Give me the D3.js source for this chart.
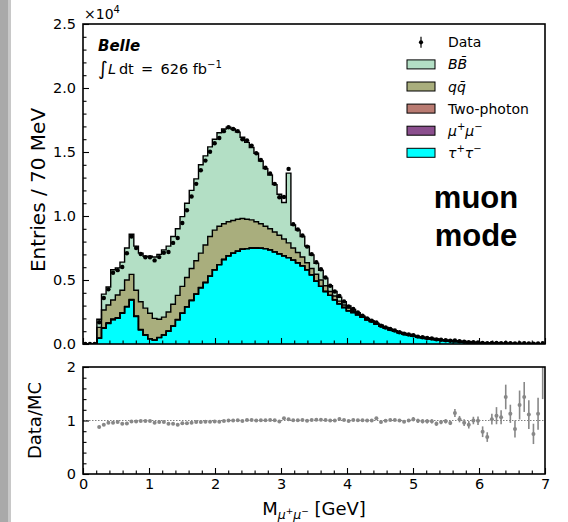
<!DOCTYPE html>
<html>
<head>
<meta charset="utf-8">
<script src="https://cdn.jsdelivr.net/npm/d3@7"></script>
<style>
  body { margin: 0; background: #fff; }
  text { font-family: "DejaVu Sans", sans-serif; fill: #000; }
</style>
</head>
<body>
<svg id="chart" width="568" height="522"></svg>
<script>
// ─── DATA (entries per 70 MeV bin, 0 - 7 GeV) ───────────────────────
const binWidth = 0.07;
const nBins = 100;

const tautau = [0,0,0,440,1220,1600,1900,2000,2400,2900,
  3440,2150,1100,700,400,300,500,700,1000,1400,
  1900,2400,2900,3400,3900,4400,4800,5300,5800,6200,
  6600,6900,7100,7250,7400,7450,7500,7500,7480,7450,
  7350,7200,7050,6900,6750,6550,6350,6100,5800,5400,
  4900,4500,4100,3800,3450,3150,2850,2600,2450,2280,
  2080,1900,1750,1560,1400,1250,1110,990,870,780,
  690,610,530,480,430,380,335,290,255,225,
  195,170,140,120,100,85,70,58,48,40,
  32,26,20,15,11,8,5,3,2,1];

const mumu = [0,0,0,10,10,10,10,10,10,10,
  10,10,10,0,0,0,0,0,0,0,
  0,0,0,0,0,0,0,0,0,0,
  0,0,0,0,0,0,0,0,0,0,
  0,0,0,0,0,0,0,0,0,0,
  0,0,0,0,0,0,0,0,0,0,
  0,0,0,0,0,0,0,0,0,0,
  0,0,0,0,0,0,0,0,0,0,
  0,0,0,0,0,0,0,0,0,0,
  0,0,0,0,0,0,0,0,0,0];

const twoPhoton = [0,0,0,30,50,50,40,40,40,30,
  30,30,20,20,20,15,15,15,15,15,
  15,15,15,15,15,15,0,0,0,0,
  0,0,0,0,0,0,0,0,0,0,
  0,0,0,0,0,0,0,0,0,0,
  0,0,0,0,0,0,0,0,0,0,
  0,0,0,0,0,0,0,0,0,0,
  0,0,0,0,0,0,0,0,0,0,
  0,0,0,0,0,0,0,0,0,0,
  0,0,0,0,0,0,0,0,0,0];

const qqbar = [0,0,0,820,1380,1390,1490,1780,1750,2060,
  1960,2010,2170,2080,1980,1685,1415,1385,1485,1685,
  1885,2085,2285,2485,2585,2685,2930,3100,3100,3000,
  2800,2650,2550,2500,2400,2300,2200,2050,1920,1750,
  1650,1550,1450,1300,1150,950,800,700,550,500,
  550,500,450,300,300,200,200,200,100,70,
  50,50,30,40,45,40,40,45,50,50,
  50,50,50,50,50,50,50,50,45,45,
  45,40,40,40,40,35,40,37,37,35,
  36,34,35,35,34,32,32,31,28,27];

const bbbar = [0,0,0,630,1240,1400,2360,2120,2200,2500,
  3130,3450,3800,4050,4450,4800,5070,5250,5150,5300,
  5200,5450,5800,6100,6400,6900,6970,7000,7100,7300,
  7400,7380,7150,6800,6350,6000,5650,5350,4900,4500,
  4200,3700,3200,2850,5450,1800,1750,1600,1300,1050,
  850,750,600,450,350,300,250,170,150,100,
  70,50,40,20,15,10,10,5,0,0,
  0,0,0,0,0,0,0,0,0,0,
  0,0,0,0,0,0,0,0,0,0,
  0,0,0,0,0,0,0,0,0,0];

const dataCounts = [0,0,0,1700,3590,4270,5570,5770,6020,7090,
  8400,7500,7030,6780,6780,6530,6790,7130,7190,7900,
  8280,9450,10450,11520,12510,13580,14330,15020,15680,16090,
  16630,16930,16800,16630,15990,15910,15500,14900,14370,13770,
  13330,12510,11470,11490,13680,9350,8940,8480,7610,7020,
  6390,5840,5200,4550,4100,3760,3330,2940,2730,2460,
  2210,2000,1820,1680,1420,1290,1170,1050,920,810,
  740,680,577,522,473,424,362,330,296,258,
  274,215,173,147,140,119,87,66,87,82,
  72,86,62,42,58,58,41,26,34,64];

// Data/MC (null where MC is empty)
const ratioVals = [null,null,null,0.88,0.92,0.96,0.96,0.97,0.94,0.945,
  0.98,0.98,0.99,0.99,0.99,0.96,0.97,0.97,0.94,0.94,
  0.92,0.95,0.95,0.96,0.97,0.97,0.975,0.975,0.98,0.975,
  0.99,1.0,1.0,1.005,0.99,1.01,1.01,1.0,1.005,1.005,
  1.01,1.005,0.98,1.04,1.025,1.005,1.005,1.01,0.995,1.01,
  1.015,1.015,1.01,1.0,1.0,1.03,1.01,0.99,1.01,1.005,
  1.005,1.0,1.0,1.04,0.97,0.995,1.01,1.01,1.0,0.975,
  1.0,1.025,0.995,0.985,0.985,0.985,0.94,0.97,0.985,0.955,
  1.14,1.025,0.96,0.92,1.0,0.995,0.79,0.69,1.025,1.09,
  1.06,1.44,1.125,0.84,1.29,1.44,1.11,0.75,1.125,2.3];

const ratioErrs = [0,0,0,0.015,0.015,0.015,0.015,0.015,0.015,0.015,
  0.01,0.01,0.01,0.01,0.01,0.01,0.01,0.01,0.01,0.01,
  0.01,0.01,0.01,0.01,0.01,0.01,0.01,0.01,0.01,0.01,
  0.01,0.01,0.01,0.01,0.01,0.01,0.01,0.01,0.01,0.01,
  0.01,0.01,0.01,0.01,0.01,0.01,0.01,0.01,0.01,0.01,
  0.01,0.015,0.015,0.015,0.015,0.015,0.015,0.015,0.015,0.015,
  0.015,0.02,0.02,0.02,0.02,0.02,0.02,0.02,0.02,0.02,
  0.02,0.04,0.04,0.04,0.04,0.04,0.04,0.04,0.04,0.04,
  0.075,0.06,0.065,0.07,0.07,0.08,0.1,0.09,0.1,0.16,
  0.13,0.23,0.17,0.16,0.27,0.28,0.27,0.19,0.3,0.9];

const stackKeys = ["tautau", "mumu", "twoPhoton", "qqbar", "bbbar"];
const stackColors = { tautau: "#00ffff", mumu: "#8b4f8e", twoPhoton: "#b97b72", qqbar: "#a9ae7d", bbbar: "#b3dfc5" };

const mainTicks = [0, 5000, 10000, 15000, 20000, 25000];
const xTicks = [0, 1, 2, 3, 4, 5, 6, 7];
const ratioTicks = [0, 1, 2];

// ─── LAYOUT ─────────────────────────────────────────────────────────
const left = 83, right = 545;
const mainTop = 24, mainBottom = 344;
const ratioTop = 367, ratioBottom = 474;

const svg = d3.select("#chart");

// grey strip on the left edge of the original screenshot
svg.append("rect").attr("x", 0).attr("y", 0).attr("width", 8).attr("height", 522).attr("fill", "#a9a9a9");
svg.append("rect").attr("x", 8).attr("y", 0).attr("width", 3).attr("height", 522).attr("fill", "#c8c8c8");

const x = d3.scaleLinear().domain([0, 7]).range([left, right]);
const y = d3.scaleLinear().domain([0, 25000]).range([mainBottom, mainTop]);
const yr = d3.scaleLinear().domain([0, 2]).range([ratioBottom, ratioTop]);

const defs = svg.append("defs");
defs.append("clipPath").attr("id", "clipMain").append("rect")
  .attr("x", left).attr("y", mainTop).attr("width", right - left).attr("height", mainBottom - mainTop);
defs.append("clipPath").attr("id", "clipRatio").append("rect")
  .attr("x", left).attr("y", ratioTop).attr("width", right - left).attr("height", ratioBottom - ratioTop);

// ─── STACKED HISTOGRAM ──────────────────────────────────────────────
const rows = d3.range(nBins).map(i => ({
  tautau: tautau[i], mumu: mumu[i], twoPhoton: twoPhoton[i], qqbar: qqbar[i], bbbar: bbbar[i]
}));
const series = d3.stack().keys(stackKeys)(rows);

// one point per bin edge, last edge repeats the last bin
const edgesOf = s => d3.range(nBins + 1).map(j => ({ x: j * binWidth, v: s[Math.min(j, nBins - 1)] }));

const area = d3.area().curve(d3.curveStepAfter)
  .x(d => x(d.x)).y0(d => y(d.v[0])).y1(d => y(d.v[1]));
const topLine = d3.line().curve(d3.curveStepAfter)
  .x(d => x(d.x)).y(d => y(d.v[1]));

const histG = svg.append("g").attr("clip-path", "url(#clipMain)");
series.forEach(s => {
  histG.append("path").attr("d", area(edgesOf(s))).attr("fill", stackColors[s.key]);
});
series.forEach(s => {
  histG.append("path").attr("d", topLine(edgesOf(s)))
    .attr("fill", "none").attr("stroke", "#000").attr("stroke-width", 1.4);
});

// data points
histG.selectAll("circle.data")
  .data(dataCounts)
  .enter().append("circle")
  .attr("class", "data")
  .attr("cx", (d, i) => x((i + 0.5) * binWidth))
  .attr("cy", d => y(d))
  .attr("r", 2.2)
  .attr("fill", "#000");

// ─── RATIO PANEL ────────────────────────────────────────────────────
const ratioG = svg.append("g").attr("clip-path", "url(#clipRatio)");
ratioG.append("line")
  .attr("x1", left).attr("x2", right).attr("y1", yr(1)).attr("y2", yr(1))
  .attr("stroke", "#808080").attr("stroke-width", 1).attr("stroke-dasharray", "1.5,1.5");

const ratioPts = ratioVals.map((v, i) => ({ v, e: ratioErrs[i], i })).filter(d => d.v !== null);
ratioG.selectAll("line.err")
  .data(ratioPts)
  .enter().append("line")
  .attr("class", "err")
  .attr("x1", d => x((d.i + 0.5) * binWidth)).attr("x2", d => x((d.i + 0.5) * binWidth))
  .attr("y1", d => yr(d.v - d.e)).attr("y2", d => yr(d.v + d.e))
  .attr("stroke", "#888").attr("stroke-width", 1.6);
ratioG.selectAll("circle.ratio")
  .data(ratioPts)
  .enter().append("circle")
  .attr("class", "ratio")
  .attr("cx", d => x((d.i + 0.5) * binWidth))
  .attr("cy", d => yr(d.v))
  .attr("r", 2)
  .attr("fill", "#888");

// ─── AXES ───────────────────────────────────────────────────────────
function styleAxis(g) {
  g.select(".domain").remove();
  g.selectAll(".tick line").attr("stroke", "#000").attr("stroke-width", 1.1);
  g.selectAll(".tick text").attr("font-size", 14.5).attr("font-family", "DejaVu Sans").attr("fill", "#000");
}
const minorOf = (lo, hi, step, majors) =>
  d3.range(lo, hi + step / 2, step).filter(v => !majors.some(m => Math.abs(m - v) < 1e-6));

// main panel
svg.append("g").attr("transform", `translate(${left},0)`)
  .call(d3.axisLeft(y).tickValues(mainTicks).tickSizeInner(-6).tickSizeOuter(0).tickPadding(7)
    .tickFormat(d => (d / 1e4).toFixed(1)))
  .call(styleAxis);
svg.append("g").attr("transform", `translate(${left},0)`)
  .call(d3.axisLeft(y).tickValues(minorOf(0, 25000, 1000, mainTicks)).tickSizeInner(-3.5).tickSizeOuter(0).tickFormat(""))
  .call(styleAxis);
svg.append("g").attr("transform", `translate(0,${mainBottom})`)
  .call(d3.axisBottom(x).tickValues(xTicks).tickSizeInner(-6).tickSizeOuter(0).tickFormat(""))
  .call(styleAxis);
svg.append("g").attr("transform", `translate(0,${mainBottom})`)
  .call(d3.axisBottom(x).tickValues(minorOf(0, 7, 0.2, xTicks)).tickSizeInner(-3.5).tickSizeOuter(0).tickFormat(""))
  .call(styleAxis);

// ratio panel
svg.append("g").attr("transform", `translate(${left},0)`)
  .call(d3.axisLeft(yr).tickValues(ratioTicks).tickSizeInner(-6).tickSizeOuter(0).tickPadding(7).tickFormat(d3.format("d")))
  .call(styleAxis);
svg.append("g").attr("transform", `translate(${left},0)`)
  .call(d3.axisLeft(yr).tickValues(minorOf(0, 2, 0.2, ratioTicks)).tickSizeInner(-3.5).tickSizeOuter(0).tickFormat(""))
  .call(styleAxis);
svg.append("g").attr("transform", `translate(0,${ratioBottom})`)
  .call(d3.axisBottom(x).tickValues(xTicks).tickSizeInner(-6).tickSizeOuter(0).tickPadding(5).tickFormat(d3.format("d")))
  .call(styleAxis);
svg.append("g").attr("transform", `translate(0,${ratioBottom})`)
  .call(d3.axisBottom(x).tickValues(minorOf(0, 7, 0.2, xTicks)).tickSizeInner(-3.5).tickSizeOuter(0).tickFormat(""))
  .call(styleAxis);

// frames
[[mainTop, mainBottom], [ratioTop, ratioBottom]].forEach(([t, b]) => {
  svg.append("rect").attr("x", left).attr("y", t).attr("width", right - left).attr("height", b - t)
    .attr("fill", "none").attr("stroke", "#000").attr("stroke-width", 1.6);
});

// ─── TEXT HELPERS ───────────────────────────────────────────────────
// parts: {t, size, italic, bold, shift}  (shift = offset from baseline, + is down)
function richText(parent, px, py, parts, anchor) {
  const t = parent.append("text").attr("x", px).attr("y", py).attr("text-anchor", anchor || "start");
  let prev = 0;
  parts.forEach(p => {
    const shift = p.shift || 0;
    t.append("tspan")
      .attr("dy", shift - prev)
      .attr("font-size", p.size)
      .attr("font-style", p.italic ? "italic" : "normal")
      .attr("font-weight", p.bold ? "bold" : "normal")
      .text(p.t);
    prev = shift;
  });
  return t;
}

// ×10^4 offset label
richText(svg, 84, 19, [{ t: "×10", size: 14 }, { t: "4", size: 10, shift: -6 }]);

// axis labels
svg.append("text").attr("transform", `translate(45,${(mainTop + mainBottom) / 2 + 6}) rotate(-90)`)
  .attr("text-anchor", "middle").attr("font-size", 20).text("Entries / 70 MeV");
svg.append("text").attr("transform", `translate(41,${(ratioTop + ratioBottom) / 2}) rotate(-90)`)
  .attr("text-anchor", "middle").attr("font-size", 18).text("Data/MC");

richText(svg, (left + right) / 2, 515, [
  { t: "M", size: 18 },
  { t: "μ", size: 12.5, italic: true, shift: 4 },
  { t: "+", size: 9, shift: -1 },
  { t: "μ", size: 12.5, italic: true, shift: 4 },
  { t: "−", size: 9, shift: -1 },
  { t: " [GeV]", size: 18, shift: 0 }
], "middle");

// experiment label
svg.append("text").attr("x", 98).attr("y", 51).attr("font-size", 15)
  .attr("font-weight", "bold").attr("font-style", "italic").text("Belle");
richText(svg, 98, 74, [
  { t: "∫", size: 19, shift: 1 },
  { t: "L", size: 14.5, italic: true, shift: 0 },
  { t: "\u2009dt\u2002=\u2002626 fb", size: 14.5 },
  { t: "−1", size: 10, shift: -6 }
]);

// muon mode
svg.append("text").attr("x", 476).attr("y", 208).attr("text-anchor", "middle")
  .style("font-family", "Liberation Sans, Arial, sans-serif")
  .attr("font-size", 31).attr("font-weight", "bold").text("muon");
svg.append("text").attr("x", 476).attr("y", 246).attr("text-anchor", "middle")
  .style("font-family", "Liberation Sans, Arial, sans-serif")
  .attr("font-size", 31).attr("font-weight", "bold").text("mode");

// ─── LEGEND ─────────────────────────────────────────────────────────
const legendRows = [
  { key: "data", parts: [{ t: "Data", size: 14 }] },
  { key: "bbbar", parts: [{ t: "BB\u0304", size: 14, italic: true }] },
  { key: "qqbar", parts: [{ t: "qq\u0304", size: 14, italic: true }] },
  { key: "twoPhoton", parts: [{ t: "Two-photon", size: 14 }] },
  { key: "mumu", parts: [{ t: "μ", size: 14, italic: true }, { t: "+", size: 10, shift: -6 },
    { t: "μ", size: 14, italic: true, shift: 0 }, { t: "−", size: 10, shift: -6 }] },
  { key: "tautau", parts: [{ t: "τ", size: 14, italic: true }, { t: "+", size: 10, shift: -6 },
    { t: "τ", size: 14, italic: true, shift: 0 }, { t: "−", size: 10, shift: -6 }] }
];
const legend = svg.append("g");
legendRows.forEach((r, k) => {
  const cy = 42.3 + 22.1 * k;
  if (r.key === "data") {
    legend.append("line").attr("x1", 421).attr("x2", 421).attr("y1", cy - 5.5).attr("y2", cy + 5.5)
      .attr("stroke", "#000").attr("stroke-width", 1.2);
    legend.append("circle").attr("cx", 421).attr("cy", cy).attr("r", 2.1).attr("fill", "#000");
  } else {
    legend.append("rect").attr("x", 407).attr("y", cy - 4.5).attr("width", 28).attr("height", 9)
      .attr("fill", stackColors[r.key]).attr("stroke", "#000").attr("stroke-width", 1);
  }
  richText(legend, 448, cy + 5, r.parts);
});
</script>
</body>
</html>
